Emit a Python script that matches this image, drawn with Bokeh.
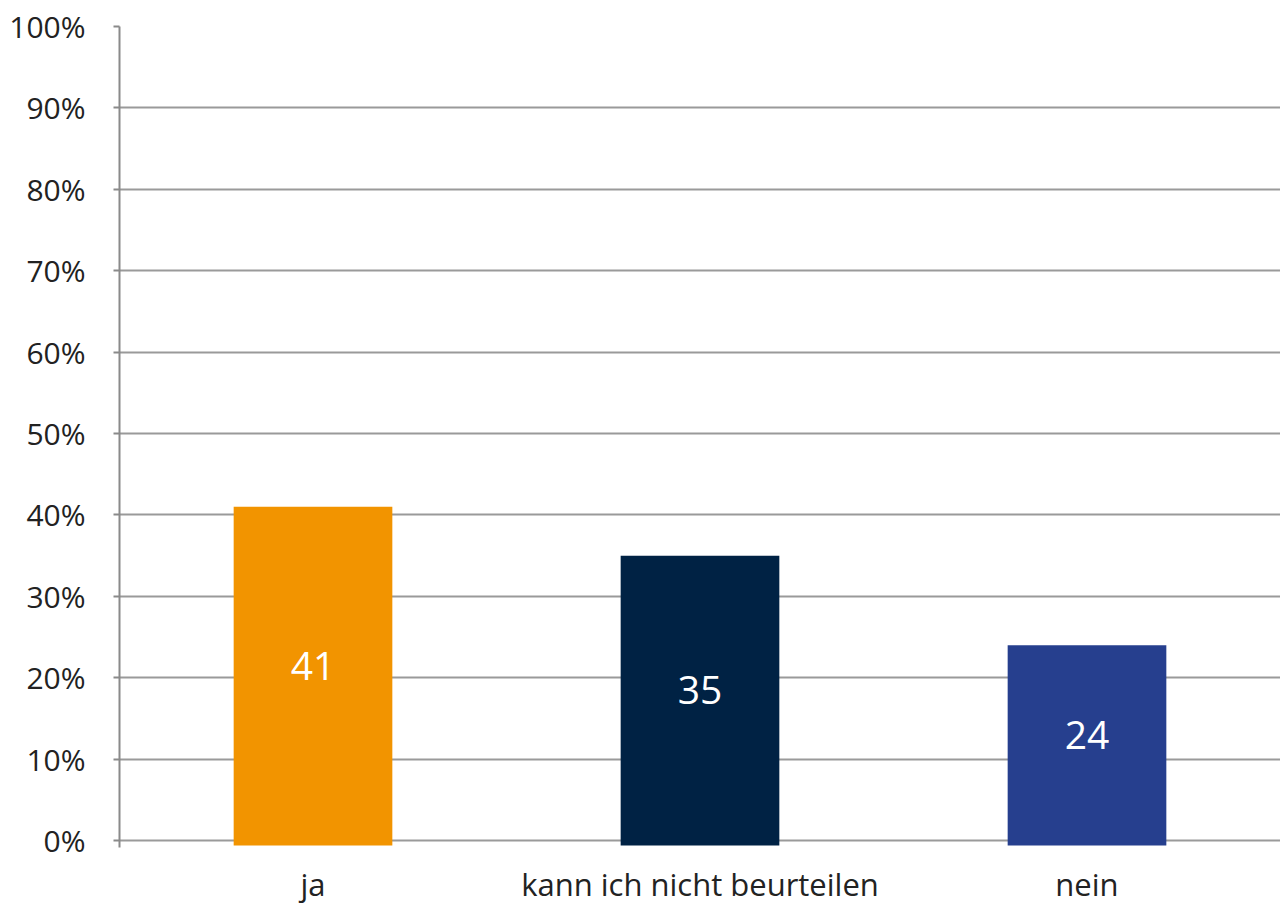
from bokeh.plotting import figure
from bokeh.models import ColumnDataSource, Range1d, FixedTicker, PrintfTickFormatter
from bokeh.core.properties import value
from bokeh.embed import file_html
from bokeh.resources import INLINE

categories = ["ja", "kann ich nicht beurteilen", "nein"]
values = [41, 35, 24]
colors = ["#F29400", "#002244", "#263F8E"]
labels = ["41", "35", "24"]
y_ticks = [0, 10, 20, 30, 40, 50, 60, 70, 80, 90, 100]

FONT = "Open Sans"

src = ColumnDataSource(dict(
    cat=categories,
    val=values,
    color=colors,
    lab=labels,
    lab_y=[v / 2 + 1 for v in values],
))

p = figure(x_range=categories, y_range=Range1d(-0.85, 100),
           width=1280, height=907, output_backend="svg", toolbar_location=None,
           min_border_left=119, min_border_right=0, min_border_top=26, min_border_bottom=60)
p.outline_line_color = None
p.background_fill_color = "white"

p.vbar(x="cat", top="val", bottom=-0.6, width=0.41, color="color", source=src, line_color=None)
p.text(x="cat", y="lab_y", text="lab", source=src, text_color="white",
       text_font=value(FONT), text_font_size="39px", text_align="center", text_baseline="middle")

p.xgrid.grid_line_color = None
p.ygrid.grid_line_color = "#9a9a9a"
p.ygrid.grid_line_width = 2
p.ygrid.ticker = FixedTicker(ticks=y_ticks)

p.yaxis.ticker = FixedTicker(ticks=y_ticks)
p.yaxis.formatter = PrintfTickFormatter(format="%d%%")
p.yaxis.axis_line_color = "#8a8a8a"
p.yaxis.axis_line_width = 2
p.yaxis.major_tick_line_color = "#8a8a8a"
p.yaxis.major_tick_line_width = 2
p.yaxis.major_tick_out = 6
p.yaxis.major_tick_in = 0
p.yaxis.minor_tick_line_color = None
p.yaxis.major_label_text_font = FONT
p.yaxis.major_label_text_font_size = "30px"
p.yaxis.major_label_text_color = "#222222"
p.yaxis.major_label_standoff = 28

p.xaxis.axis_line_color = None
p.xaxis.major_tick_line_color = None
p.xaxis.minor_tick_line_color = None
p.xaxis.major_label_text_font = FONT
p.xaxis.major_label_text_font_size = "31px"
p.xaxis.major_label_text_color = "#222222"
p.xaxis.major_label_standoff = 9

open("out.html", "w").write(file_html(p, INLINE))
